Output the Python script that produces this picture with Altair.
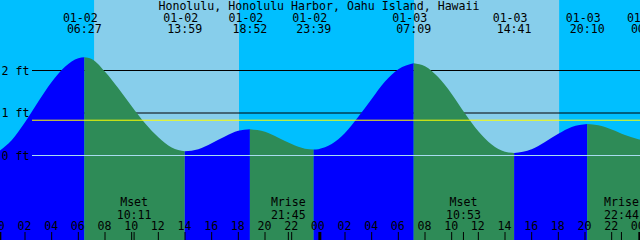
import altair as alt
import pandas as pd

TITLE = "Honolulu, Honolulu Harbor, Oahu Island, Hawaii"

# Tide curve (hours after 01-02 00:00, feet)
HOURS = [0.125, 1, 2, 3, 4, 5, 6, 6.45, 7, 8, 9, 10, 11, 12, 13, 13.983,
         15, 16, 17, 18, 18.867, 20, 21, 22, 23, 23.65, 24, 25, 26, 27, 28,
         29, 30, 31.15, 32, 33, 34, 35, 36, 37, 38, 38.683, 40, 41, 42, 43,
         44.167, 45, 46, 47, 48, 48.125]
HEIGHTS = [0.12, 0.36, 0.78, 1.27, 1.73, 2.09, 2.29, 2.31, 2.27, 1.97, 1.58,
           1.16, 0.76, 0.43, 0.19, 0.10,
           0.15, 0.29, 0.45, 0.58, 0.62, 0.56, 0.42, 0.27, 0.16, 0.14, 0.15,
           0.27, 0.53, 0.91, 1.33,
           1.74, 2.03, 2.17, 2.10, 1.84, 1.45, 0.99, 0.57, 0.26, 0.09, 0.06,
           0.15, 0.32, 0.51, 0.67,
           0.74, 0.71, 0.61, 0.48, 0.385, 0.377]

# High / low tide events
TIDE_HOURS = [6.45, 13.983, 18.867, 23.65, 31.15, 38.683, 44.167, 48.75]
TIDE_DATES = ["01-02", "01-02", "01-02", "01-02", "01-03", "01-03", "01-03", "01-04"]
TIDE_TIMES = ["06:27", "13:59", "18:52", "23:39", "07:09", "14:41", "20:10", "00:45"]

# Moon events
MOON_HOURS = [10.183, 21.75, 34.883, 46.733]
MOON_NAMES = ["Mset", "Mrise", "Mset", "Mrise"]
MOON_TIMES = ["10:11", "21:45", "10:53", "22:44"]

# Daylight
SUNRISE_HOURS = [7.18, 31.18]
SUNSET_HOURS = [18.05, 42.06]

# Hour axis
TICK_HOURS = list(range(0, 50, 2))
TICK_LABELS = ["00", "02", "04", "06", "08", "10", "12", "14", "16", "18", "20", "22",
               "00", "02", "04", "06", "08", "10", "12", "14", "16", "18", "20", "22", "00"]
MIDNIGHT_HOURS = [0, 24, 48]

LEVEL_VALUES = [2, 1, 0]
LEVEL_LABELS = ["2 ft", "1 ft", "0 ft"]
GRID_VALUES = [1, 2]
MSL_VALUE = 0.83

X_DOMAIN = [0.125, 48.125]
Y_DOMAIN = [-1.988, 3.659]
W, H = 640, 240
FONT = "DejaVu Sans Mono"
FS = 11.6

xs = alt.Scale(domain=X_DOMAIN, nice=False, zero=False)
ys = alt.Scale(domain=Y_DOMAIN, nice=False, zero=False)

# split curve into rising / falling segments at the extrema
bounds = [X_DOMAIN[0]] + [h for h in TIDE_HOURS if X_DOMAIN[0] < h < X_DOMAIN[1]] + [X_DOMAIN[1]]
rows = []
for i in range(len(bounds) - 1):
    b0, b1 = bounds[i], bounds[i + 1]
    pts = [(h, v) for h, v in zip(HOURS, HEIGHTS) if b0 - 1e-6 <= h <= b1 + 1e-6]
    phase = "rise" if pts[-1][1] > pts[0][1] else "fall"
    for h, v in pts:
        rows.append(dict(h=h, ft=v, seg=i, phase=phase))
seg_df = pd.DataFrame(rows)

sun_df = pd.DataFrame({"rise": SUNRISE_HOURS, "set": SUNSET_HOURS})
day = alt.Chart(sun_df).mark_rect(color="#87CEEB").encode(
    x=alt.X("rise:Q", scale=xs, axis=None), x2="set:Q",
    y=alt.value(0), y2=alt.value(H))

grid = alt.Chart(pd.DataFrame({"ft": GRID_VALUES})).mark_rule(color="black", strokeWidth=1).encode(
    y=alt.Y("ft:Q", scale=ys, axis=None), x=alt.value(32), x2=alt.value(W))

area = alt.Chart(seg_df).mark_area(interpolate="monotone").encode(
    x=alt.X("h:Q", scale=xs, axis=None),
    y=alt.Y("ft:Q", scale=ys, axis=None, stack=None),
    y2=alt.datum(Y_DOMAIN[0]),
    color=alt.Color("phase:N", scale=alt.Scale(domain=["rise", "fall"], range=["#0000FF", "#2E8B57"]), legend=None),
    detail="seg:N")

msl = alt.Chart(pd.DataFrame({"ft": [MSL_VALUE]})).mark_rule(color="#FFFF00", strokeWidth=1).encode(
    y=alt.Y("ft:Q", scale=ys, axis=None), x=alt.value(32), x2=alt.value(W))

zero = alt.Chart(pd.DataFrame({"ft": [0]})).mark_rule(color="#A8DCF0", strokeWidth=1).encode(
    y=alt.Y("ft:Q", scale=ys, axis=None), x=alt.value(32), x2=alt.value(W))

tick_hours = [h for h in TICK_HOURS if h not in MIDNIGHT_HOURS] + MOON_HOURS
ticks = alt.Chart(pd.DataFrame({"h": tick_hours})).mark_rule(color="black", strokeWidth=1).encode(
    x=alt.X("h:Q", scale=xs, axis=None), y=alt.value(232), y2=alt.value(H))

mid = alt.Chart(pd.DataFrame({"h": MIDNIGHT_HOURS})).mark_rule(color="black", strokeWidth=3, xOffset=1.5).encode(
    x=alt.X("h:Q", scale=xs, axis=None), y=alt.value(232), y2=alt.value(H))

def txt(df, field, y, dx=0, align="center"):
    return alt.Chart(df).mark_text(font=FONT, fontSize=FS, color="black", baseline="alphabetic",
                                   align=align, dx=dx).encode(
        x=alt.X("h:Q", scale=xs, axis=None), y=alt.value(y), text=f"{field}:N")

tide_df = pd.DataFrame({"h": TIDE_HOURS, "d": TIDE_DATES, "t": TIDE_TIMES})
moon_df = pd.DataFrame({"h": MOON_HOURS, "n": MOON_NAMES, "t": MOON_TIMES})
hour_df = pd.DataFrame({"h": TICK_HOURS, "l": TICK_LABELS})

date_txt = txt(tide_df, "d", 22, dx=-4)
time_txt = txt(tide_df, "t", 33)
moon_name = txt(moon_df, "n", 206)
moon_time = txt(moon_df, "t", 218.5)
hour_txt = txt(hour_df, "l", 230, dx=-0.5)

title = alt.Chart(pd.DataFrame({"t": [TITLE]})).mark_text(
    font=FONT, fontSize=FS, color="black", baseline="alphabetic", align="center").encode(
    x=alt.value(319), y=alt.value(9.5), text="t:N")

level_txt = alt.Chart(pd.DataFrame({"ft": LEVEL_VALUES, "l": LEVEL_LABELS})).mark_text(
    font=FONT, fontSize=FS, color="black", baseline="alphabetic", align="left", dy=4).encode(
    x=alt.value(1.5), y=alt.Y("ft:Q", scale=ys, axis=None), text="l:N")

chart = alt.layer(day, grid, area, msl, zero, ticks, mid, title, date_txt, time_txt,
                  moon_name, moon_time, hour_txt, level_txt).properties(
    width=W, height=H, padding=0, background="#00BFFF",
    autosize=alt.AutoSizeParams(type="none")).configure_view(stroke=None)

chart.save("out.html", embed_options={"renderer": "svg", "actions": False})
